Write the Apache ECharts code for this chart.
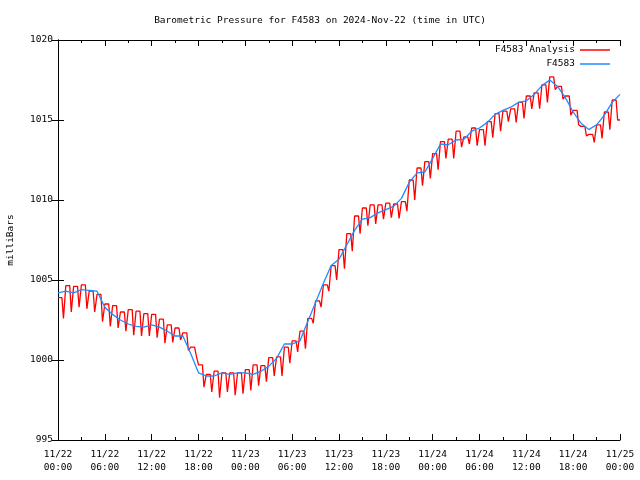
<!DOCTYPE html>
<html>
<head>
<meta charset="utf-8">
<script src="https://cdn.jsdelivr.net/npm/echarts@6/dist/echarts.min.js"></script>
<style>html,body{margin:0;padding:0;background:#fff}#c{width:640px;height:480px}</style>
</head>
<body>
<div id="c"></div>
<script>
// Tick labels for x axis (every 6 hours, starting 11/22 00:00)
const tickLabels = ['11/22\n00:00','11/22\n06:00','11/22\n12:00','11/22\n18:00','11/23\n00:00','11/23\n06:00','11/23\n12:00','11/23\n18:00','11/24\n00:00','11/24\n06:00','11/24\n12:00','11/24\n18:00','11/25\n00:00'];

// F4583 observations, hourly (hours 0..72 from 11/22 00:00)
const obsValues = [1004.2,1004.3,1004.2,1004.4,1004.35,1004.3,1003.3,1002.85,1002.5,1002.25,1002.1,1002.05,1002.2,1002.05,1001.8,1001.5,1001.5,1000.4,999.2,999.0,999.0,999.2,999.1,999.2,999.2,999.1,999.3,999.6,1000.1,1001.0,1001.0,1001.2,1002.4,1003.6,1004.8,1005.9,1006.3,1007.2,1008.1,1008.8,1008.9,1009.2,1009.4,1009.6,1010.1,1011.1,1011.7,1011.75,1012.6,1013.5,1013.45,1013.75,1013.8,1014.3,1014.5,1014.85,1015.35,1015.6,1015.8,1016.1,1016.2,1016.6,1017.15,1017.5,1017.1,1016.4,1015.5,1014.8,1014.4,1014.7,1015.3,1016.1,1016.6];

// F4583 Analysis: hourly high plateau and following dip (hours 0..71), plus final value
const anaHigh = [1003.9,1004.65,1004.6,1004.7,1004.3,1004.1,1003.5,1003.4,1003.0,1003.15,1003.05,1002.9,1002.85,1002.55,1002.2,1002.0,1001.7,1000.8,999.7,999.1,999.3,999.2,999.2,999.2,999.4,999.7,999.65,1000.15,1000.2,1000.8,1001.2,1001.8,1002.6,1003.7,1004.7,1005.9,1006.9,1007.9,1009.0,1009.5,1009.7,1009.7,1009.8,1009.75,1009.9,1011.25,1012.0,1012.4,1012.9,1013.65,1013.8,1014.3,1013.95,1014.5,1014.4,1014.9,1015.4,1015.55,1015.7,1016.1,1016.5,1016.7,1017.2,1017.7,1017.1,1016.5,1015.6,1014.6,1014.1,1014.7,1015.5,1016.25];
const anaDip = [1002.6,1003.0,1003.3,1003.2,1003.0,1002.4,1002.1,1002.0,1001.8,1001.55,1001.5,1001.5,1001.4,1001.05,1001.1,1001.25,1000.6,1000.3,998.3,998.0,997.65,998.0,997.8,997.9,998.1,998.4,998.65,999.0,999.0,999.8,1000.5,1000.7,1002.3,1003.3,1004.3,1005.0,1005.7,1006.8,1007.9,1008.4,1008.5,1008.8,1008.9,1008.85,1009.3,1010.0,1010.9,1011.35,1011.9,1012.6,1012.6,1013.3,1013.5,1013.4,1013.4,1013.9,1014.3,1014.9,1014.85,1015.1,1015.7,1015.7,1016.1,1016.9,1016.3,1015.3,1014.7,1014.0,1013.6,1013.85,1014.4,1015.0];
const anaEnd = 1015.0;

const obsData = obsValues.map((v, i) => [i, v]);
const anaData = [];
for (let i = 0; i < anaHigh.length; i++) {
  anaData.push([i, anaHigh[i]]);
  anaData.push([i + 0.5, anaHigh[i]]);
  anaData.push([i + 0.7, anaDip[i]]);
}
anaData.push([72, anaEnd]);

const FONT = 'DejaVu Sans Mono';
const RED = '#ff0000', BLUE = '#1e8cff';
const chart = echarts.init(document.getElementById('c'), null, {renderer: 'canvas'});
const axisLine = {show: true, lineStyle: {color: '#000', width: 1}};
chart.setOption({
  animation: false,
  backgroundColor: '#fff',
  textStyle: {fontFamily: FONT, color: '#000'},
  title: {
    text: 'Barometric Pressure for F4583 on 2024-Nov-22 (time in UTC)',
    left: 'center', top: 11,
    textStyle: {fontFamily: FONT, fontSize: 9.5, fontWeight: 'normal', color: '#000'}
  },
  legend: {
    orient: 'vertical', align: 'right', right: 25, top: 40,
    itemWidth: 30, itemHeight: 1.5, itemGap: 4,
    textStyle: {fontFamily: FONT, fontSize: 9.5, color: '#000'},
    data: [
      {name: 'F4583 Analysis', icon: 'rect', itemStyle: {color: RED}},
      {name: 'F4583', icon: 'rect', itemStyle: {color: BLUE}}
    ]
  },
  grid: {left: 58, right: 20, top: 40, bottom: 40, containLabel: false, outerBoundsMode: 'none'},
  xAxis: [{
    type: 'value', min: 0, max: 72, interval: 6,
    axisLine: axisLine,
    axisTick: {show: true, inside: true, length: 6, lineStyle: {color: '#000'}},
    minorTick: {show: true, splitNumber: 2, length: 3, lineStyle: {color: '#000'}},
    splitLine: {show: false},
    axisLabel: {
      fontFamily: FONT, fontSize: 9.5, color: '#000', margin: 8, lineHeight: 13,
      formatter: v => tickLabels[Math.round(v / 6)]
    }
  }, {
    type: 'value', min: 0, max: 72, interval: 6, position: 'top',
    axisLine: axisLine,
    axisTick: {show: true, inside: true, length: 6, lineStyle: {color: '#000'}},
    minorTick: {show: true, splitNumber: 2, length: 3, lineStyle: {color: '#000'}},
    splitLine: {show: false}, axisLabel: {show: false}
  }],
  yAxis: [{
    type: 'value', min: 995, max: 1020, interval: 5,
    name: 'milliBars', nameLocation: 'middle', nameGap: 42, nameRotate: 90,
    nameTextStyle: {fontFamily: FONT, fontSize: 9.5, color: '#000'},
    axisLine: axisLine,
    axisTick: {show: true, inside: true, length: 6, lineStyle: {color: '#000'}},
    splitLine: {show: false},
    axisLabel: {fontFamily: FONT, fontSize: 9.5, color: '#000', margin: 5, formatter: v => String(v)}
  }, {
    type: 'value', min: 995, max: 1020, interval: 5, position: 'right',
    axisLine: axisLine,
    axisTick: {show: true, inside: true, length: 6, lineStyle: {color: '#000'}},
    splitLine: {show: false}, axisLabel: {show: false}
  }],
  series: [{
    name: 'F4583 Analysis', type: 'line', data: anaData,
    showSymbol: false, symbol: 'none',
    lineStyle: {color: RED, width: 1.3}, itemStyle: {color: RED}
  }, {
    name: 'F4583', type: 'line', data: obsData,
    showSymbol: false, symbol: 'none',
    lineStyle: {color: BLUE, width: 1.3}, itemStyle: {color: BLUE}
  }]
});
</script>
</body>
</html>
